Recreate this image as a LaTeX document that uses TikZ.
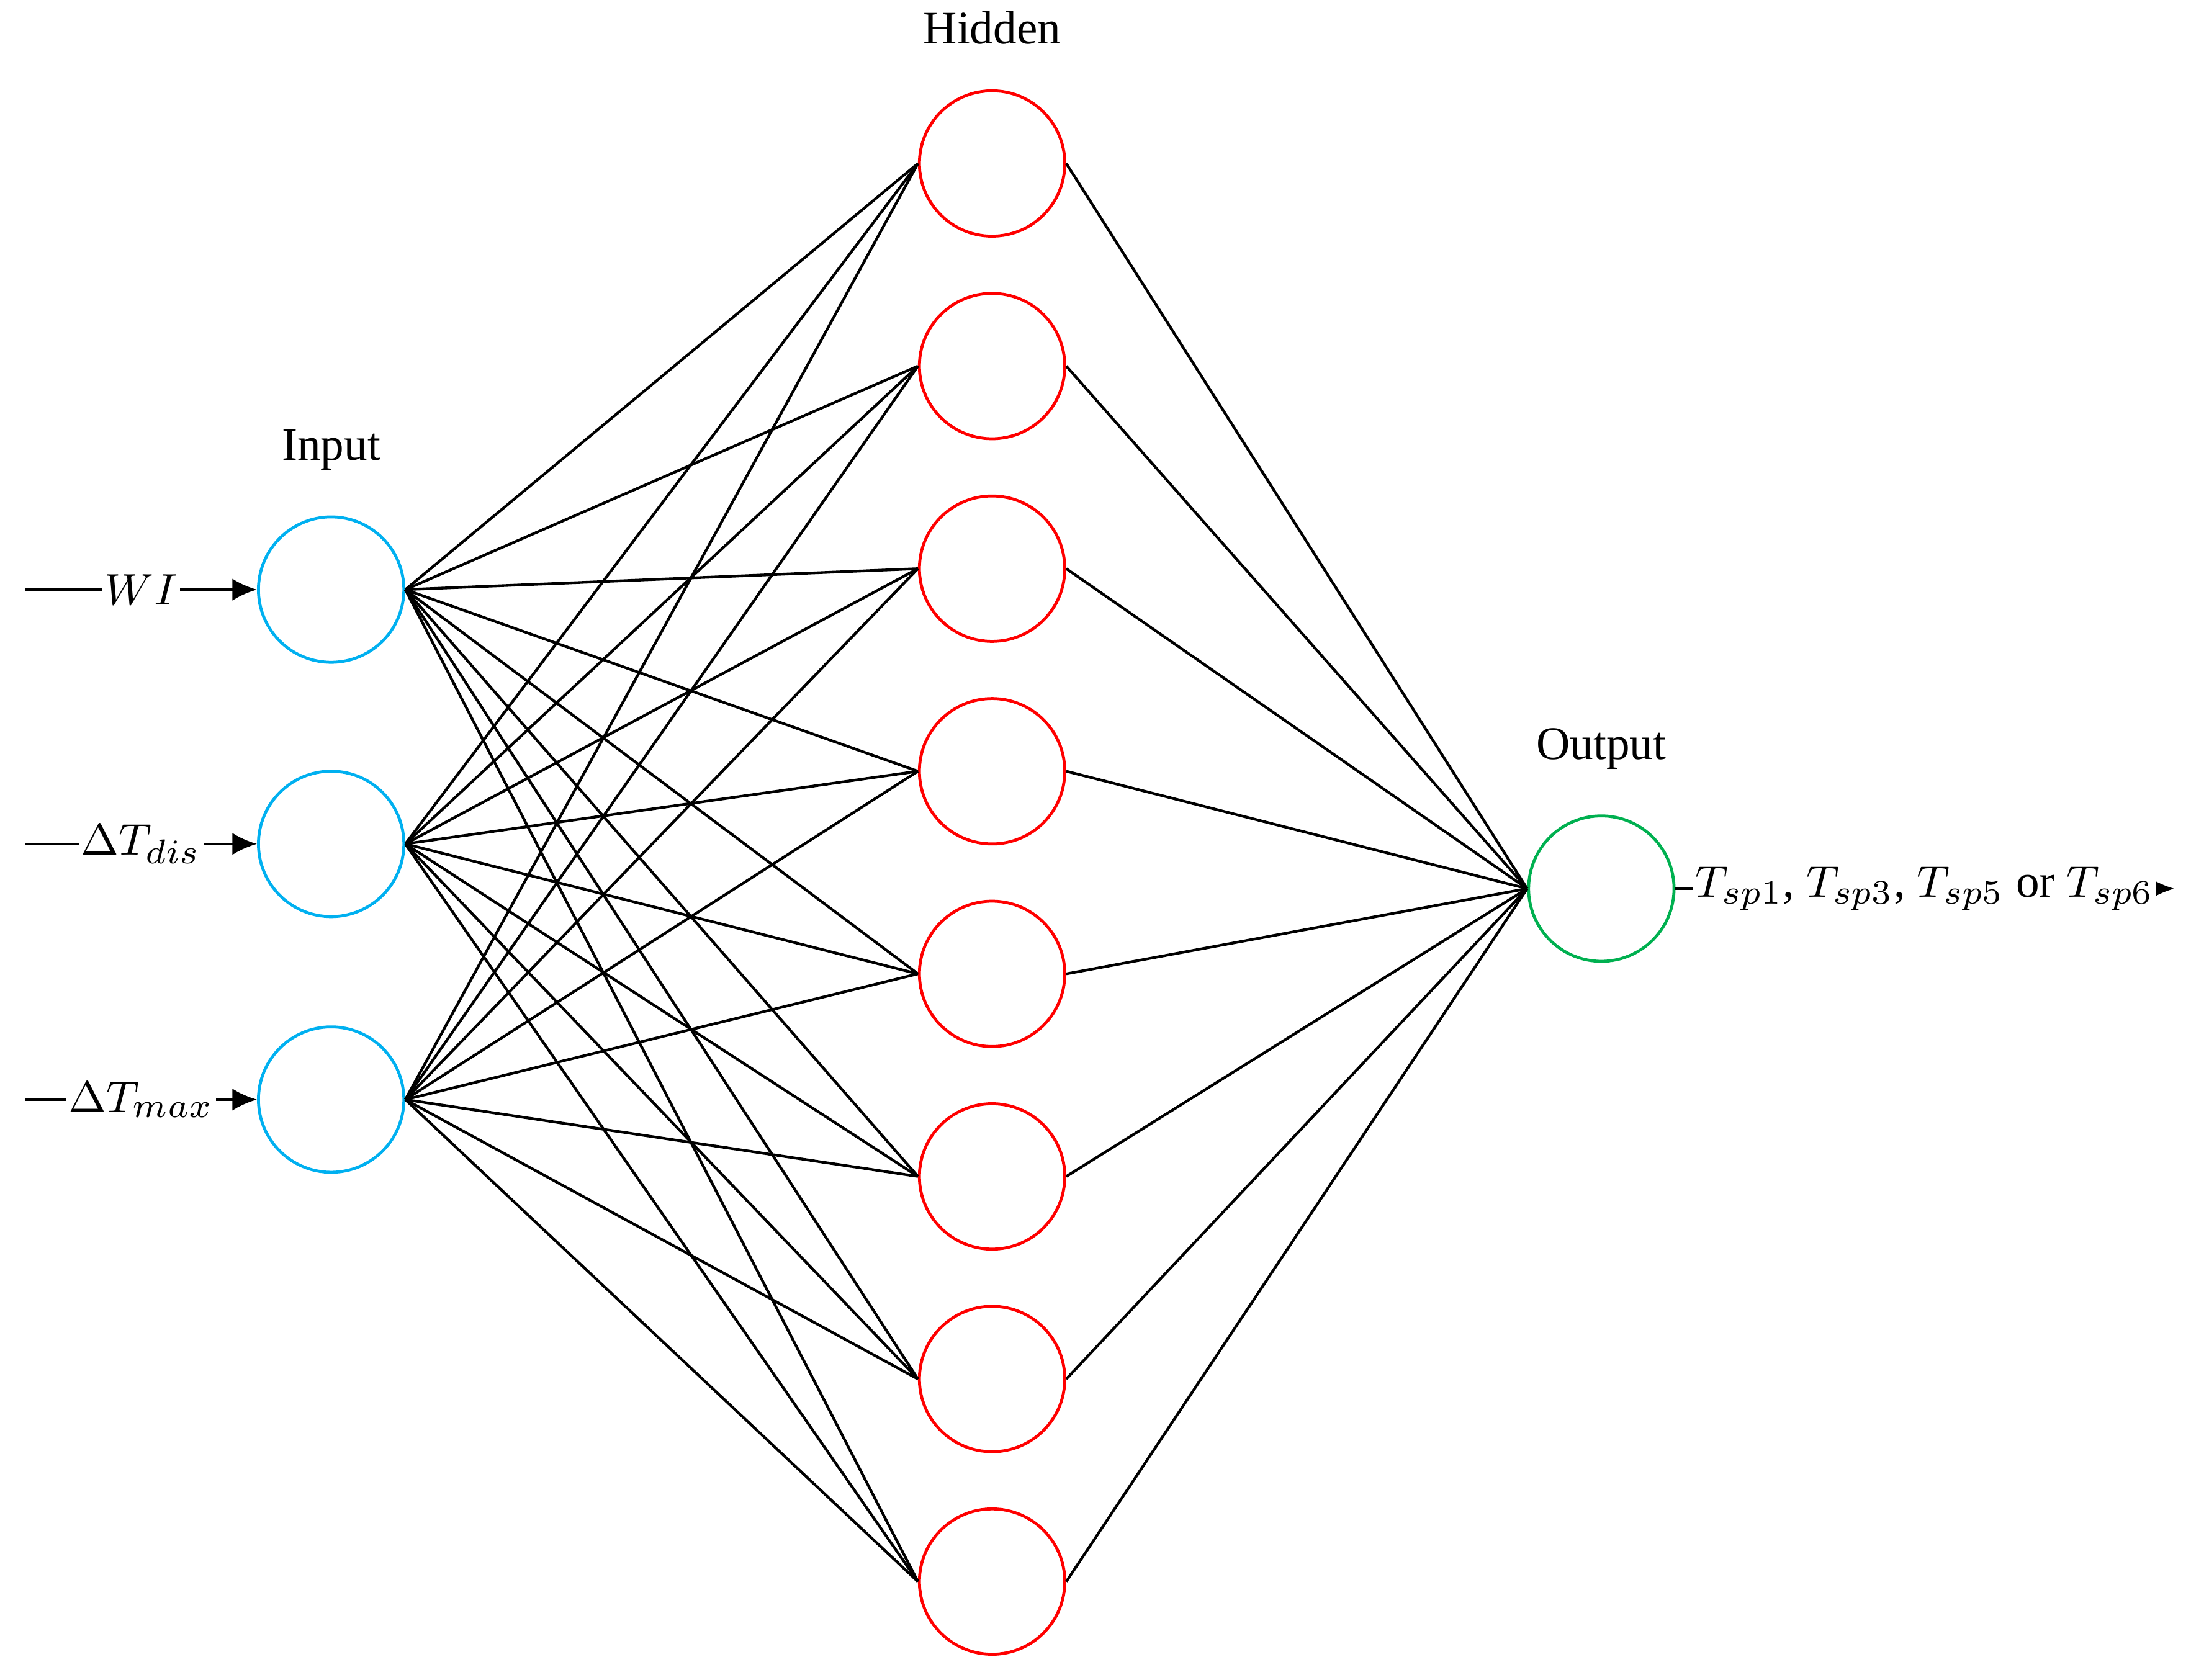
\documentclass[tikz,border=0pt]{standalone}
\usepackage{fontspec}
\setmainfont{Liberation Serif}
\usetikzlibrary{arrows.meta,positioning}
\definecolor{incol}{RGB}{0,176,240}
\definecolor{hidcol}{RGB}{255,0,0}
\definecolor{outcol}{RGB}{0,176,80}
\begin{document}
\begin{tikzpicture}[
        x=0.01cm, y=-0.01cm,
        neuron/.style = {circle, draw, line width=0.6pt, minimum size=1.04cm, inner sep=0pt},
        innode/.style = {neuron, draw=incol},
        hidnode/.style = {neuron, draw=hidcol},
        outnode/.style = {neuron, draw=outcol},
        layer/.style = {font=\fontsize{9.5}{11}\selectfont},
        edge/.style = {draw, line width=0.55pt},
        line/.style = {draw, line width=0.55pt, -{Latex[length=5pt,width=4.5pt]}},
        lab/.style = {font=\fontsize{9.5}{11}\selectfont, fill=white, inner sep=0.5pt}
    ]
    \useasboundingbox (0,0) rectangle (1568,1202);

        % Place nodes
        \foreach \i/\y in {1/422,2/604,3/787}
            \node [innode] (in\i) at (237,\y) {};
        \foreach \i in {1,...,8}
            \node [hidnode] (hid\i) at (710,{117+145*(\i-1)}) {};
        \node [outnode] (out) at (1146,636) {};

        \node [layer, above=0.2cm of hid1] {Hidden};
        \node [layer, above=0.2cm of in1] {Input};
        \node [layer, above=0.2cm of out] {Output};

        \coordinate (src1) at (18,422);
        \coordinate (src2) at (18,604);
        \coordinate (src3) at (18,787);
        \coordinate (dst) at (1556,636);

        % Draw edges
        \foreach \i in {1,2,3}
            \foreach \j in {1,...,8}
                \draw [edge] (in\i.east) -- (hid\j.west);
        \foreach \j in {1,...,8}
            \draw [edge] (hid\j.east) -- (out.west);

        \draw [line] (src1) -- node[lab] {$WI$} (in1.west);
        \draw [line] (src2) -- node[lab] {$\Delta T_{dis}$} (in2.west);
        \draw [line] (src3) -- node[lab] {$\Delta T_{max}$} (in3.west);
        \draw [line] (out.east) -- node[lab] {$T_{sp1}$, $T_{sp3}$, $T_{sp5}$ or $T_{sp6}$} (dst);

    \end{tikzpicture}
\end{document}
